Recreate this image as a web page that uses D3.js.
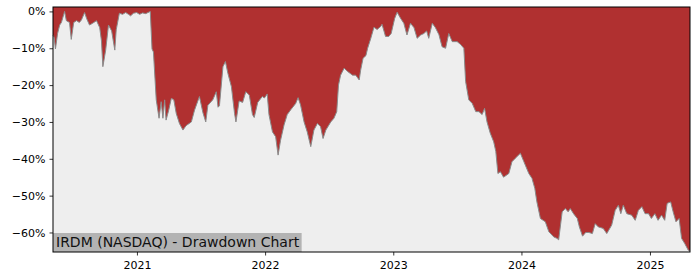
<!DOCTYPE html>
<html>
<head>
<meta charset="utf-8">
<script src="https://d3js.org/d3.v7.min.js"></script>
<style>
  body { margin: 0; background: #fff; }
  text { font-family: "DejaVu Sans", sans-serif; }
  .axis path, .axis line { stroke: #000; stroke-width: 0.8; }
  .axis text { font-size: 11px; fill: #000; }
</style>
</head>
<body>
<script>
var title = "IRDM (NASDAQ) - Drawdown Chart";

// drawdown, percent
var dates = [
  "2020-05-07","2020-05-10","2020-05-14","2020-05-20","2020-05-26","2020-05-31","2020-06-09","2020-06-14",
  "2020-06-23","2020-06-28","2020-07-05","2020-07-13","2020-07-21","2020-07-27","2020-08-05","2020-08-11",
  "2020-08-19","2020-08-28","2020-09-08","2020-09-17","2020-09-22","2020-09-26","2020-10-04","2020-10-12",
  "2020-10-21","2020-10-30","2020-11-03","2020-11-12","2020-11-21","2020-11-30","2020-12-08","2020-12-14",
  "2020-12-22","2020-12-31","2021-01-09","2021-01-17","2021-01-26","2021-02-08","2021-02-13","2021-02-17",
  "2021-02-25","2021-03-05","2021-03-11","2021-03-16","2021-03-21","2021-03-25","2021-04-01","2021-04-09",
  "2021-04-16","2021-04-23","2021-05-02","2021-05-12","2021-05-21","2021-06-05","2021-06-14","2021-06-28",
  "2021-07-08","2021-07-16","2021-07-22","2021-08-05","2021-08-15","2021-08-20","2021-08-24","2021-09-03",
  "2021-09-10","2021-09-17","2021-09-27","2021-10-06","2021-10-10","2021-10-19","2021-10-29","2021-11-07",
  "2021-11-17","2021-11-26","2021-12-01","2021-12-11","2021-12-24","2021-12-30","2022-01-07","2022-01-12",
  "2022-01-22","2022-01-31","2022-02-07","2022-02-14","2022-02-24","2022-03-05","2022-03-15","2022-03-29",
  "2022-04-05","2022-04-12","2022-04-22","2022-05-01","2022-05-11","2022-05-20","2022-05-30","2022-06-08",
  "2022-06-15","2022-06-23","2022-07-07","2022-07-16","2022-07-24","2022-07-29","2022-08-04","2022-08-14",
  "2022-08-24","2022-09-07","2022-09-16","2022-09-26","2022-09-30","2022-10-07","2022-10-15","2022-10-20",
  "2022-10-29","2022-11-07","2022-11-16","2022-11-26","2022-11-30","2022-12-10","2022-12-19","2022-12-26",
  "2023-01-05","2023-01-12","2023-01-22","2023-01-31","2023-02-09","2023-02-19","2023-03-01","2023-03-10",
  "2023-03-20","2023-03-29","2023-04-06","2023-04-12","2023-04-22","2023-05-01","2023-05-11","2023-05-20",
  "2023-05-30","2023-06-08","2023-06-18","2023-07-02","2023-07-12","2023-07-21","2023-07-26","2023-08-04",
  "2023-08-14","2023-08-24","2023-09-02","2023-09-11","2023-09-18","2023-09-25","2023-10-04","2023-10-14",
  "2023-10-20","2023-10-26","2023-11-02","2023-11-11","2023-11-26","2023-12-05","2023-12-14","2023-12-29",
  "2024-01-08","2024-01-22","2024-01-31","2024-02-08","2024-02-14","2024-02-24","2024-03-09","2024-03-19",
  "2024-04-02","2024-04-11","2024-04-16","2024-04-26","2024-05-05","2024-05-13","2024-05-19","2024-05-29",
  "2024-06-08","2024-06-14","2024-06-23","2024-07-02","2024-07-11","2024-07-21","2024-07-29","2024-08-07",
  "2024-08-21","2024-08-31","2024-09-14","2024-09-24","2024-10-03","2024-10-10","2024-10-17","2024-10-27",
  "2024-11-10","2024-11-20","2024-11-29","2024-12-09","2024-12-18","2024-12-28","2025-01-05","2025-01-15",
  "2025-01-24","2025-02-03","2025-02-12","2025-02-19","2025-03-01","2025-03-08","2025-03-16","2025-03-25",
  "2025-04-01","2025-04-10","2025-04-20","2025-04-25"
];
var drawdown = [
  -6.5,-7,-10.2,-6,-3.7,-3,0,-2.5,
  -3,-7.6,-3,-2.5,-3,-2.3,-0.3,-2,
  -3.7,-3.2,-2.5,-4.4,-8,-15,-10.5,-3.7,
  -5.3,-10.5,-5,-0.5,-0.8,-0.3,-0.8,-1.2,
  -0.5,-0.3,-0.8,-0.4,-0.6,0,-10.2,-11,
  -24,-29,-24.5,-29,-24,-29.5,-27,-23.6,
  -24,-27.7,-30.4,-32.2,-31,-30,-26.8,-23.1,
  -27.5,-30,-25.5,-24,-21.8,-26,-25.6,-15,
  -13.6,-16.8,-20.4,-27.7,-30,-24.3,-24.7,-21.8,
  -22.7,-28,-28.8,-24.7,-23.1,-23.5,-22.4,-28,
  -32.7,-34,-39,-35,-30.8,-28,-26.7,-25,
  -23.4,-25.4,-30,-32.7,-36.7,-32.2,-30.4,-31.3,
  -34.5,-32.2,-30,-29,-27.2,-20,-17.3,-15.4,
  -16.3,-17.3,-17.3,-18.6,-16,-12.7,-12,-10,
  -7.3,-4.3,-4.9,-4.1,-3.5,-6.8,-6.8,-6,
  -1.9,-0.2,-1.9,-3.2,-6.4,-3.2,-4.4,-7.3,
  -6.4,-6,-5.3,-7.3,-3.2,-4.4,-6.3,-9.6,
  -10,-6,-8.2,-8.2,-9,-10,-19,-24,
  -25,-27.2,-27.2,-28,-26.3,-30,-33,-35.4,
  -38,-44,-43.5,-45,-44,-40.8,-39.9,-38.5,
  -40.8,-44,-45.3,-48,-51.7,-56.2,-57.1,-59.8,
  -61.2,-61.6,-62,-54.4,-53.5,-54.4,-53.5,-55,
  -56.2,-58.5,-61,-60,-60,-60.3,-57.6,-58.5,
  -58.9,-60.3,-58,-54,-52.6,-54.9,-52.6,-54.9,
  -55.3,-56.7,-54,-53,-54.9,-54.9,-56.2,-54.9,
  -56.7,-55.3,-56.7,-52.1,-51.7,-54.4,-57.1,-56.2,
  -61.6,-63,-64.8,-65
];
var yTicks = [0, -10, -20, -30, -40, -50, -60];
var xTicks = ["2021-01-01", "2022-01-01", "2023-01-01", "2024-01-01", "2025-01-01"];

var svgWidth = 700, svgHeight = 280,
    margin = {top: 7, right: 10, bottom: 28, left: 53},
    width = svgWidth - margin.left - margin.right,
    height = svgHeight - margin.top - margin.bottom;

var parse = d3.timeParse("%Y-%m-%d");
var data = dates.map(function (d, i) { return {date: parse(d), dd: drawdown[i]}; });

var xScale = d3.scaleTime()
    .domain(d3.extent(data, d => d.date))
    .range([0, width]);

var yScale = d3.scaleLinear()
    .domain([-65.3, 1.2])
    .range([height, 0]);

var svg = d3.select("body").append("svg")
    .attr("width", svgWidth)
    .attr("height", svgHeight)
    .append("g")
    .attr("transform", "translate(" + margin.left + "," + margin.top + ")");

svg.append("rect")
    .attr("width", width)
    .attr("height", height)
    .attr("fill", "#eeeeee");

var area = d3.area()
    .x(d => xScale(d.date))
    .y0(0)
    .y1(d => yScale(d.dd));

svg.append("path")
    .datum(data)
    .attr("fill", "#b03030")
    .attr("d", area);

var line = d3.line()
    .x(d => xScale(d.date))
    .y(d => yScale(d.dd));

svg.append("path")
    .datum(data)
    .attr("fill", "none")
    .attr("stroke", "#8a8a8a")
    .attr("stroke-width", 1)
    .attr("d", line);

// label box
var label = svg.append("g").attr("transform", "translate(0," + height + ")");
var labelText = label.append("text")
    .attr("x", 3)
    .attr("y", -5)
    .style("font-size", "14px")
    .attr("fill", "#111")
    .text(title);
var bb = labelText.node().getBBox();
label.insert("rect", "text")
    .attr("x", 0)
    .attr("y", -19)
    .attr("width", bb.width + 5)
    .attr("height", 19)
    .attr("fill", "#b3b3b3");

svg.append("g")
    .attr("class", "x axis")
    .attr("transform", "translate(0," + height + ")")
    .call(d3.axisBottom(xScale)
        .tickValues(xTicks.map(parse))
        .tickFormat(d3.timeFormat("%Y"))
        .tickSize(3.5)
        .tickPadding(5.5))
    .call(g => g.select(".domain").remove());

svg.append("g")
    .attr("class", "y axis")
    .call(d3.axisLeft(yScale)
        .tickValues(yTicks)
        .tickFormat(d => (d < 0 ? "\u2212" + (-d) : d) + "%")
        .tickSize(3.5)
        .tickPadding(4))
    .call(g => g.select(".domain").remove());

svg.append("rect")
    .attr("width", width)
    .attr("height", height)
    .attr("fill", "none")
    .attr("stroke", "#000")
    .attr("stroke-width", 1);
</script>
</body>
</html>
